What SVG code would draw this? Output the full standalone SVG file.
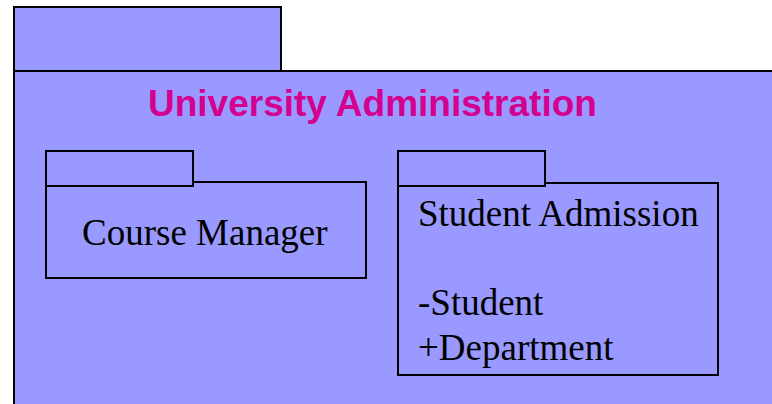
<svg xmlns="http://www.w3.org/2000/svg" width="772" height="404" viewBox="0 0 772 404">
<style>
.pk{fill:#9999FF;stroke:#000;stroke-width:2}
.t{font-family:"Liberation Serif","Times New Roman",serif;font-size:37px;fill:#000}
.title{font-family:"Liberation Sans",Arial,sans-serif;font-size:37px;font-weight:bold;fill:#D4008F}
</style>
<rect width="772" height="404" fill="#fff"/>
<g id="university-administration">
<rect class="pk" x="14" y="71" width="800" height="400"/>
<rect class="pk" x="14" y="7" width="267" height="64"/>
<text class="title" x="148" y="116">University Administration</text>
</g>
<g id="course-manager">
<rect class="pk" x="46" y="182" width="320" height="96"/>
<rect class="pk" x="46" y="151" width="147" height="35"/>
<text class="t" x="82" y="245">Course Manager</text>
</g>
<g id="student-admission">
<rect class="pk" x="398" y="183" width="320" height="192"/>
<rect class="pk" x="398" y="151" width="147" height="35"/>
<text class="t" x="418" y="226">Student Admission</text>
<text class="t" x="418" y="315">-Student</text>
<text class="t" x="418" y="360">+Department</text>
</g>
<g id="connectors"/>
</svg>
